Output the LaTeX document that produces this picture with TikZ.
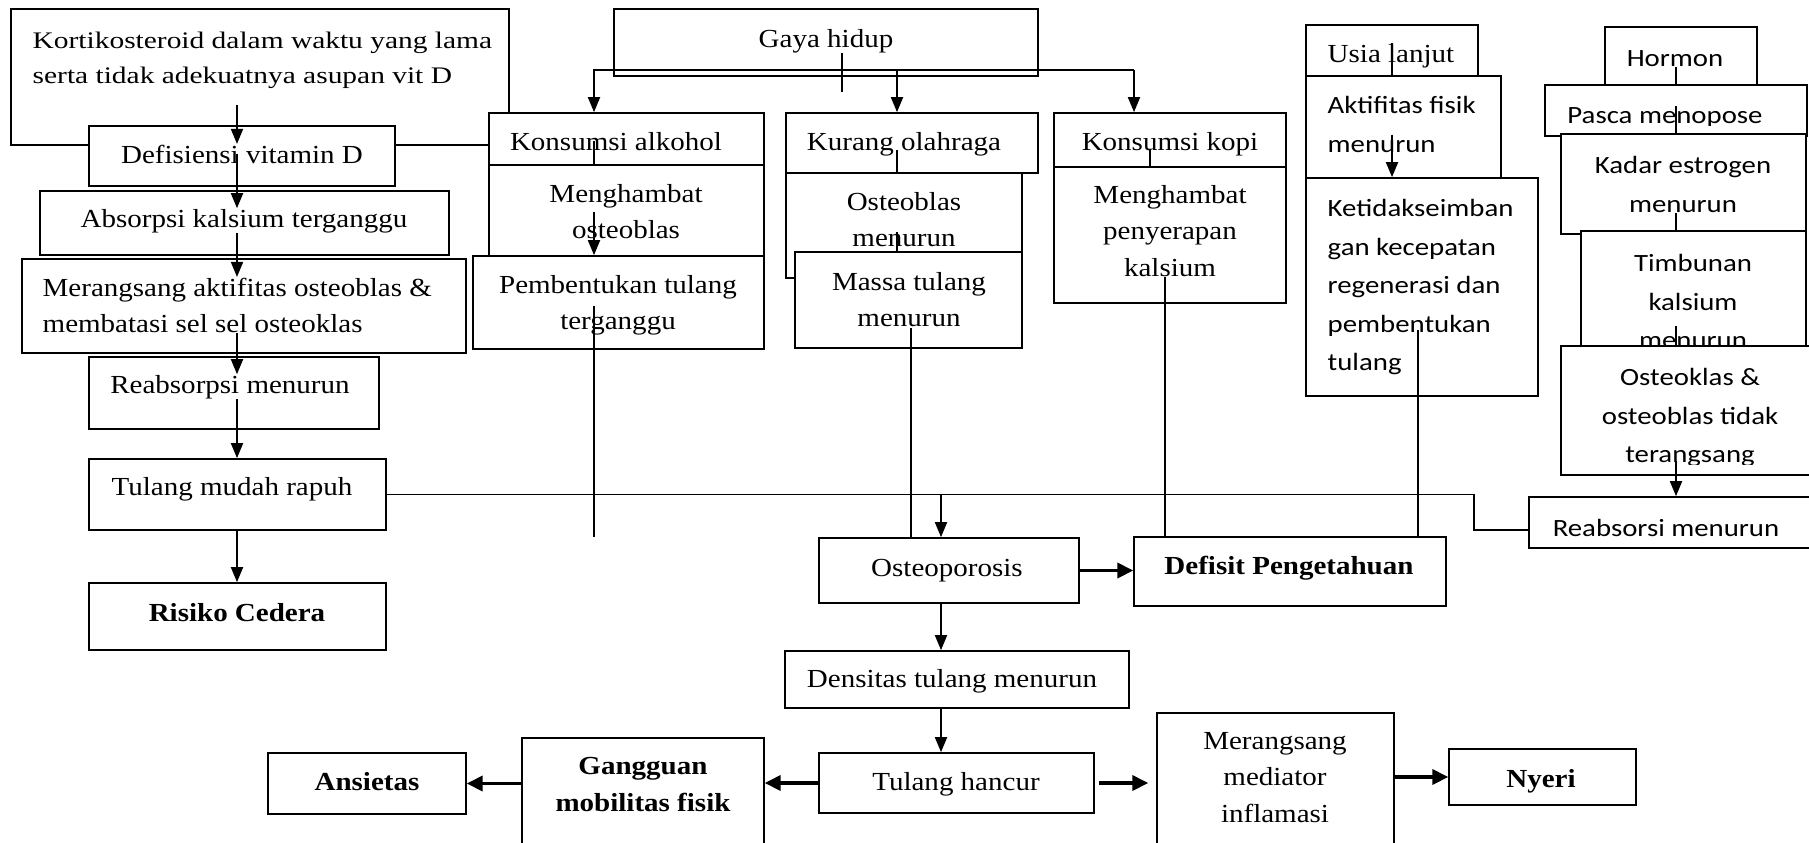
\documentclass[tikz,border=0pt]{standalone}
\usepackage{fontspec}
\setmainfont{Liberation Serif}[FakeStretch=1.115]
\newfontfamily\trk{Liberation Serif}[FakeStretch=1.24]
\newfontfamily\cbr{Carlito}[FakeStretch=1.16]
\usetikzlibrary{arrows.meta,fit}
\tikzset{
box/.style={draw, fill=white, line width=0.45pt, inner sep=0pt},
tr/.style={font=\fontsize{7.4}{10.3}\selectfont, inner sep=0pt, align=center},
trb/.style={tr, font=\fontsize{7.4}{10.3}\selectfont\bfseries},
cb/.style={font=\cbr\fontsize{7.06}{10.95}\selectfont, inner sep=0pt, align=center},
ln/.style={line width=0.3pt},
stub/.style={line width=0.6pt},
arr/.style={line width=0.6pt, -{Triangle[length=4.3pt, width=3.4pt]}},
arrb/.style={line width=0.9pt, -{Triangle[length=4.5pt, width=4.3pt]}}
}
\begin{document}
\begin{tikzpicture}[x=0.01cm, y=-0.01cm]
\useasboundingbox (0,0) rectangle (1809,842);
% columns of the connectors
\coordinate (colL) at (237,0);
\coordinate (colA) at (594,0);
\coordinate (colK) at (897,0);
\coordinate (colO) at (911,0);
\coordinate (colT) at (941,0);
\coordinate (colC) at (1134,0);
\coordinate (colP) at (1150,0);
\coordinate (colQ) at (1165,0);
\coordinate (colU) at (1392,0);
\coordinate (colV) at (1418,0);
\coordinate (colH) at (1676,0);

% left chain
\node[box, fit={(11,9) (509,145)}] (kort) {};
\node[tr, font=\trk\fontsize{6.75}{9.96}\selectfont, align=left, anchor=north west] (kortT) at (32,31) {Kortikosteroid dalam waktu yang lama\\serta tidak adekuatnya asupan vit D};
\node[box, fit={(89,126) (395,186)}] (defis) {};
\node[tr, anchor=base] (defisT) at (242,163) {Defisiensi vitamin D};
\node[box, fit={(40,191) (449,255)}] (abs) {};
\node[tr, anchor=base] (absT) at (244,227) {Absorpsi kalsium terganggu};
\node[box, fit={(22,259) (466,353)}] (meran) {};
\node[tr, align=left, anchor=north west] (meranT) at (42,277) {Merangsang aktifitas osteoblas \&\\membatasi sel sel osteoklas};
\node[box, fit={(89,357) (379,429)}] (reabs) {};
\node[tr, anchor=base] (reabsT) at (230,393) {Reabsorpsi menurun};
\node[box, fit={(89,459) (386,530)}] (tmr) {};
\node[tr, anchor=base] (tmrT) at (232,495) {Tulang mudah rapuh};
\node[box, fit={(89,583) (386,650)}] (risiko) {};
\node[trb, anchor=base] (risikoT) at (237,621) {Risiko Cedera};

% gaya hidup
\node[box, fit={(614,9) (1038,76)}] (gaya) {};
\node[tr, anchor=base] (gayaT) at (826,47) {Gaya hidup};
\node[box, fit={(489,113) (764,165)}] (alko) {};
\node[tr, anchor=base] (alkoT) at (616,150) {Konsumsi alkohol};
\node[box, fit={(489,165) (764,256)}] (mhOst) {};
\node[tr, anchor=north] (mhOstT) at (626,184) {Menghambat\\osteoblas};
\node[box, fit={(473,256) (764,349)}] (pemb) {};
\node[tr, anchor=north] (pembT) at (618,275) {Pembentukan tulang\\terganggu};
\node[box, fit={(786,113) (1038,173)}] (kurang) {};
\node[tr, anchor=base] (kurangT) at (904,150) {Kurang olahraga};
\node[box, fit={(786,173) (1022,278)}] (ostMen) {};
\node[tr, anchor=north] (ostMenT) at (904,192) {Osteoblas\\menurun};
\node[box, fit={(795,252) (1022,348)}] (massa) {};
\node[tr, anchor=north] (massaT) at (909,272) {Massa tulang\\menurun};
\node[box, fit={(1054,113) (1286,167)}] (kopi) {};
\node[tr, anchor=base] (kopiT) at (1170,150) {Konsumsi kopi};
\node[box, fit={(1054,167) (1286,303)}] (mhKal) {};
\node[tr, anchor=north] (mhKalT) at (1170,185) {Menghambat\\penyerapan\\kalsium};

% usia lanjut
\node[box, fit={(1306,25) (1478,76)}] (usia) {};
\node[tr, anchor=base west] (usiaT) at (1327,62) {Usia lanjut};
\node[box, fit={(1306,76) (1501,178)}] (aktif) {};
\node[cb, align=left, anchor=north west] (aktifT) at (1327,96) {Aktifitas fisik\\menurun};
\node[box, fit={(1306,178) (1538,396)}] (ketid) {};
\node[cb, align=left, anchor=north west] (ketidT) at (1327,199) {Ketidakseimban\\gan kecepatan\\regenerasi dan\\pembentukan\\tulang};

% hormon
\node[box, fit={(1605,27) (1757,85)}] (hormon) {};
\node[cb, anchor=base] (hormonT) at (1675,66) {Hormon};
\node[box, fit={(1545,85) (1807,136)}] (pasca) {};
\begin{scope}
\clip (1545,85) rectangle (1807,125);
\node[cb, anchor=base] (pascaT) at (1665,123) {Pasca menopose};
\end{scope}
\node[box, fit={(1561,134) (1806,234)}] (kadar) {};
\node[cb, anchor=north] (kadarT) at (1683,156) {Kadar estrogen\\menurun};
\node[box, fit={(1581,231) (1806,346)}] (timb) {};
\node[cb, anchor=north] (timbT) at (1693,254) {Timbunan\\kalsium\\menurun};
\node[box, fit={(1561,346) (1815,475)}] (osteo) {};
\begin{scope}
\clip (1561,346) rectangle (1815,464);
\node[cb, anchor=north] (osteoT) at (1690,368) {Osteoklas \&\\osteoblas tidak\\terangsang};
\end{scope}
\node[box, fit={(1529,497) (1815,548)}] (reabsR) {};
\node[cb, anchor=base] (reabsRT) at (1666,536) {Reabsorsi menurun};

% bottom
\node[box, fit={(819,538) (1079,603)}] (osteop) {};
\node[tr, anchor=base] (osteopT) at (947,576) {Osteoporosis};
\node[box, fit={(1134,537) (1446,606)}] (defisit) {};
\node[trb, anchor=base] (defisitT) at (1289,574) {Defisit Pengetahuan};
\node[box, fit={(785,651) (1129,708)}] (densit) {};
\node[tr, anchor=base] (densitT) at (952,687) {Densitas tulang menurun};
\node[box, fit={(819,753) (1094,813)}] (hancur) {};
\node[tr, anchor=base] (hancurT) at (956,790) {Tulang hancur};
\node[box, fit={(1157,713) (1394,870)}] (mediator) {};
\node[tr, anchor=north] (mediatorT) at (1275,732) {Merangsang\\mediator\\inflamasi};
\node[box, fit={(1449,749) (1636,805)}] (nyeri) {};
\node[trb, anchor=base] (nyeriT) at (1541,787) {Nyeri};
\node[box, fit={(522,738) (764,870)}] (ganggu) {};
\node[trb, anchor=north] (gangguT) at (643,757) {Gangguan\\mobilitas fisik};
\node[box, fit={(268,753) (466,814)}] (ansiet) {};
\node[trb, anchor=base] (ansietT) at (367,790) {Ansietas};

% connectors
\draw[arr, shorten <=0.16cm] (kortT.south -| colL) -- (defisT.north -| colL);
\draw[arr] (defisT.center -| colL) -- (absT.north -| colL);
\foreach \a/\b in {absT.south/meranT.north, meranT.south/reabsT.north, reabsT.south/tmr.north, tmr.south/risiko.north}
  \draw[arr] (\a -| colL) -- (\b -| colL);

\coordinate (bus) at ([yshift=0.07cm]gaya.south);
\coordinate (gs) at (842,92);
\draw[ln] (gayaT.south -| gs) -- (gs);
\draw[arr] (bus -| colC) -- (bus -| colA) -- (colA |- alko.north);
\draw[arr] (bus -| colK) -- (colK |- kurang.north);
\draw[arr] (bus -| colC) -- (colC |- kopi.north);

\draw[stub] (alkoT.center -| colA) -- (alko.south -| colA);
\draw[arr] (mhOstT.center -| colA) -- (pemb.north -| colA);
\draw[ln] (pembT.center -| colA) -- (colA |- osteop.north);
\draw[stub] (kurangT.base -| colK) -- (kurang.south -| colK);
\draw[stub, shorten <=0.12cm] (ostMenT.center -| colK) -- (massa.north -| colK);
\draw[ln] (massaT.south -| colO) -- (colO |- osteop.north);
\draw[stub] (kopiT.base -| colP) -- (kopi.south -| colP);
\draw[ln] (mhKalT.south -| colQ) -- (colQ |- defisit.north);

\draw[stub] (usiaT.north -| colU) -- (usia.south -| colU);
\draw[arr, shorten <=0.1cm] (aktifT.center -| colU) -- (ketid.north -| colU);
\draw[ln, shorten <=0.42cm] (ketidT.center -| colV) -- (colV |- defisit.north);

\coordinate (tmbS) at (1676,326);
\coordinate (ostS) at (1676,461);
\draw[stub] (hormonT.south -| colH) -- (pasca.north -| colH);
\draw[stub] (pascaT.north -| colH) -- (kadar.north -| colH);
\draw[stub] (kadarT.south -| colH) -- (timb.north -| colH);
\draw[stub] (tmbS) -- (tmbS |- osteo.north);
\draw[arr] (ostS) -- (ostS |- reabsR.north);

\coordinate (brk) at (1474,530);
\draw[line width=0.45pt] (tmr.east) -| (brk) -- (brk -| reabsR.west);
\draw[arr] (tmr.east -| colT) -- (colT |- osteop.north);
\draw[arr] (osteop.south -| colT) -- (densit.north -| colT);
\draw[arr] (densit.south -| colT) -- (hancur.north -| colT);
\draw[arrb] (osteop.east) -- (osteop.east -| defisit.west);
\draw[arrb] (hancur.west) -- (hancur.west -| ganggu.east);
\draw[arrb] (ansiet.east -| ganggu.west) -- (ansiet.east);
\draw[arrb, shorten <=0.04cm, shorten >=0.08cm] (hancur.east) -- (hancur.east -| mediator.west);
\draw[arrb] (nyeri.west -| mediator.east) -- (nyeri.west);
\end{tikzpicture}
\end{document}
